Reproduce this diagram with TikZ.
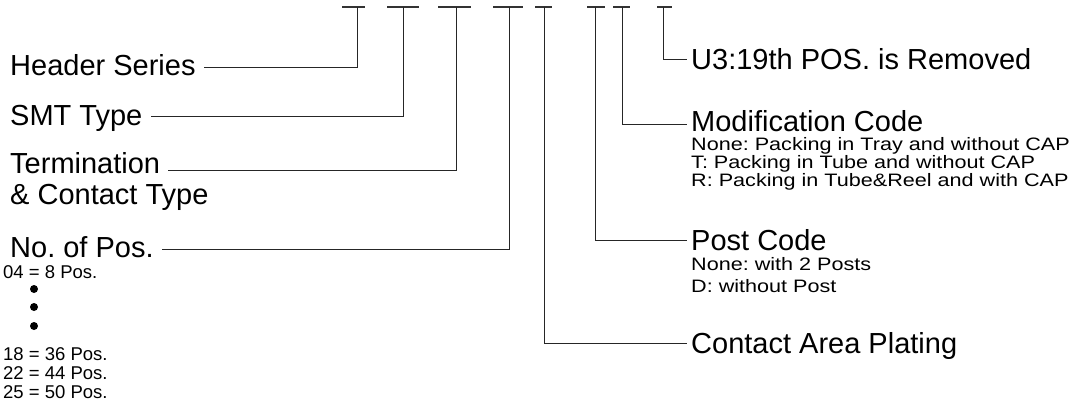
\documentclass[tikz,border=0pt]{standalone}
\usepackage{fontspec}
\setmainfont{Liberation Sans}
\newfontfamily\widesans[FakeStretch=1.2]{Liberation Sans}
\usepackage{tikz}
\usetikzlibrary{positioning}
\frenchspacing
\tikzset{
  lead/.style={line width=0.9pt, color=black!85},
  fieldbar/.style={line width=1.1pt, color=black!80},
  leftlbl/.style={font=\fontsize{29}{31}\selectfont, inner xsep=8pt, inner ysep=1pt,
                  text height=21pt, text depth=0pt},
  rightlbl/.style={leftlbl, inner xsep=4pt},
  sublbl/.style={font=\widesans\fontsize{18}{18}\selectfont, align=left, inner sep=0pt},
  postlbl/.style={sublbl, font=\widesans\fontsize{18}{22}\selectfont},
  listlbl/.style={sublbl, font=\fontsize{18.5}{19}\selectfont},
  dotmark/.style={circle, fill=black, inner sep=0pt, minimum size=8pt},
}

\begin{document}
\begin{tikzpicture}[x=1pt, y=-1pt]
\useasboundingbox (0,0) rectangle (1074,410);
\coordinate (fhs) at (357,7);
\coordinate (fsmt) at (403,7);
\coordinate (fterm) at (456,7);
\coordinate (fpos) at (509,7);
\coordinate (fplat) at (544,7);
\coordinate (fpost) at (595,7);
\coordinate (fmod) at (622,7);
\coordinate (fu3) at (663,7);
\foreach \f/\l/\r in {fhs/15/8, fsmt/16/16, fterm/18/15, fpos/16/14,
                      fplat/9/8, fpost/8/10, fmod/9/8, fu3/6/9}
  \draw[fieldbar] ([xshift=-\l pt]\f) -- ([xshift=\r pt]\f);

\node[leftlbl, anchor=west] (hs) at (2,65) {Header Series};
\node[leftlbl, anchor=west] (smt) at (2,115) {SMT Type};
\node[leftlbl, anchor=base west] (term) at (2,173) {Termination};
\node[leftlbl, below right=8pt and 0pt of term.south west] (term2) {\& Contact Type};
\node[leftlbl, anchor=west] (pos) at (2,247) {No. of Pos.};
\node[listlbl, anchor=west] (p04) at (3,272) {04 = 8 Pos.};
\node[dotmark] (dta) at (34,289) {};
\node[dotmark] (dtb) at (34,307) {};
\node[dotmark] (dtc) at (34,326) {};
\node[listlbl, anchor=north west] (plist) at (3,347) {18 = 36 Pos.\\22 = 44 Pos.\\25 = 50 Pos.};

\node[rightlbl, anchor=west] (u3) at (687,59) {U3:19th POS. is Removed};
\node[rightlbl, anchor=west] (mod) at (687,121) {Modification Code};
\node[sublbl, below right=5pt and 4pt of mod.south west] (modopt)
  {None: Packing in Tray and without CAP\\T: Packing in Tube and without CAP\\R: Packing in Tube\&Reel and with CAP};
\node[rightlbl, anchor=west] (post) at (687,240) {Post Code};
\node[postlbl, below right=6pt and 4pt of post.south west] (postopt)
  {None: with 2 Posts\\D: without Post};
\node[rightlbl, anchor=west] (plat) at (687,343) {Contact Area Plating};

\draw[lead] (fhs) |- ([yshift=-2pt]hs.east);
\draw[lead] (fsmt) |- ([yshift=-1pt]smt.east);
\draw[lead] (fterm) |- ([yshift=3pt]term.base east);
\draw[lead] (fpos) |- ([yshift=-2pt]pos.east);
\draw[lead] (fplat) |- (plat.west);
\draw[lead] (fpost) |- (post.west);
\draw[lead] (fmod) |- ([yshift=-3pt]mod.west);
\draw[lead] (fu3) |- (u3.west);
\end{tikzpicture}
\end{document}
